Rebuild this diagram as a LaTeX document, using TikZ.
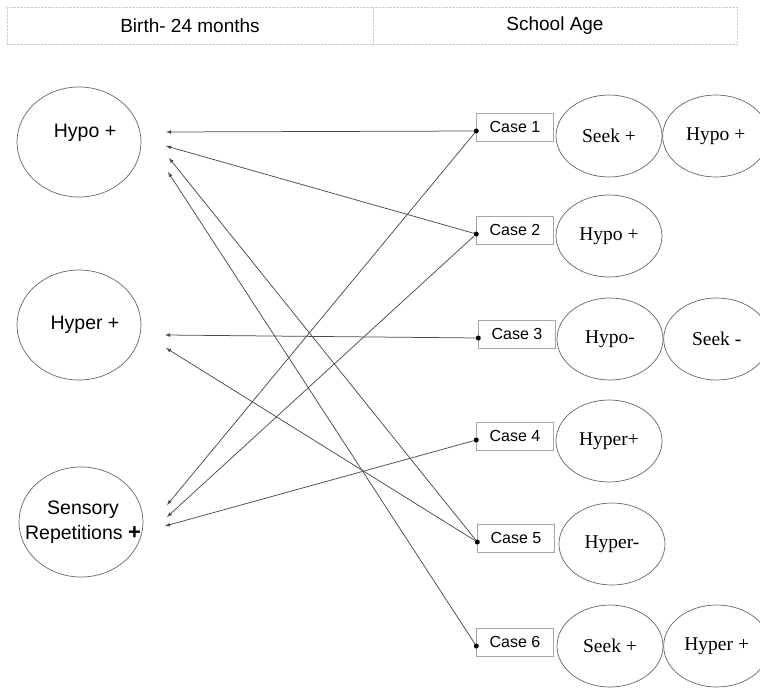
\documentclass[tikz,border=0pt]{standalone}
\usepackage{fontspec}
\setmainfont{Liberation Serif}
\setsansfont{Liberation Sans}
\usetikzlibrary{arrows,shapes.geometric,positioning}
\tikzset{>=latex}
\tikzstyle{head}=[rectangle,draw=black!20,densely dotted,minimum height=37pt,font=\sffamily\fontsize{19}{21}\selectfont]
\tikzstyle{oval}=[ellipse,draw=black!60,line width=0.7pt,minimum width=124pt,minimum height=110pt,inner sep=0pt]
\tikzstyle{ovaltext}=[align=center,inner sep=0pt,font=\sffamily\fontsize{19.5}{25}\selectfont]
\tikzstyle{casebox}=[rectangle,draw=black!35,minimum width=77pt,minimum height=28pt,inner sep=1pt,font=\sffamily\fontsize{16}{18}\selectfont]
\tikzstyle{result}=[ellipse,draw=black!60,line width=0.7pt,minimum width=106pt,minimum height=82pt,inner sep=0pt,font=\fontsize{19.5}{21}\selectfont]
\tikzstyle{dot}=[circle,fill=black,inner sep=0pt,minimum size=5pt]
\tikzstyle{conn}=[->,draw=black!70,line width=0.75pt]

\begin{document}
\begin{tikzpicture}[x=1pt,y=-1pt]
	\useasboundingbox (0,0) rectangle (760,690);

	% header row
	\node[head,minimum width=366pt] (birth) at (190,25.5) {Birth- 24 months};
	\node[head,minimum width=364pt] (school) at (555,25.5) {School Age};

	% birth - 24 months
	\node[oval] (hypo) at (79,142) {};
	\node[oval] (hyper) at (79,325) {};
	\node[oval] (sens) at (81,522) {};
	\node[ovaltext] (hypotext) at (85,133) {Hypo +};
	\node[ovaltext] (hypertext) at (85,325) {Hyper +};
	\node[ovaltext] (senstext) at (83,522) {Sensory\\Repetitions {\fontsize{22}{25}\selectfont\textbf{+}}};

	% arrow ends
	\coordinate (hypo1) at (166,132);
	\coordinate (hypo2) at (166,146);
	\coordinate (hypo3) at (169,158);
	\coordinate (hypo4) at (168,172);
	\coordinate (hyper1) at (165,335);
	\coordinate (hyper2) at (166,348);
	\coordinate (sens1) at (167,505);
	\coordinate (sens2) at (167,517);
	\coordinate (sens3) at (165,526);

	% school age
	\foreach \i/\x/\y in {1/515/127, 2/515/230, 3/517/334, 4/515/436, 5/516/538, 6/515/642} {
		\node[casebox] (c\i) at (\x,\y) {Case \i};
		\node[dot] (d\i) at ([yshift=-4pt]c\i.west) {};
	};

	\foreach \i/\x/\y/\t in {1/609/136/Seek +, 2/609/236/Hypo +, 3/610/339/Hypo-, 4/609/441/Hyper+, 5/612/544/Hyper-, 6/610/646/Seek +} {
		\node[result] (r\i) at (\x,\y) {\t};
	};
	\node[result, right=0pt of r1] (rr1) {Hypo +};
	\node[result, right=0pt of r3] (rr3) {Seek -};
	\node[result, right=0pt of r6] (rr6) {Hyper +};

	\foreach \from/\to in {d1/hypo1, d1/sens1, d2/hypo2, d2/sens2, d3/hyper1, d4/sens3, d5/hypo3, d5/hyper2, d6/hypo4} {
		\draw[conn] (\from) -- (\to);
	};
\end{tikzpicture}
\end{document}
